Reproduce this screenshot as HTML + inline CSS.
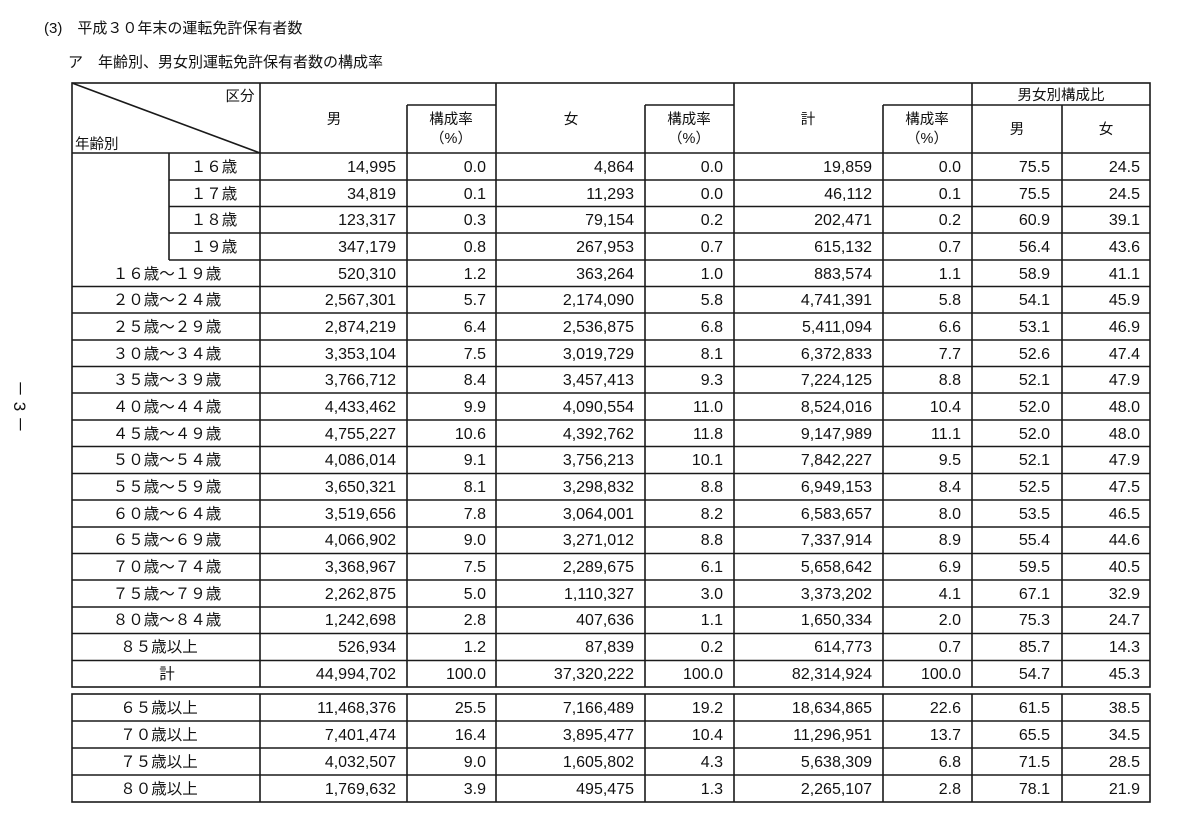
<!DOCTYPE html>
<html><head><meta charset="utf-8">
<style>
html,body{margin:0;padding:0;background:#fff;}
svg{display:block;}
.j{font-family:"Liberation Sans","Noto Sans CJK JP",sans-serif;font-size:15px;fill:#111;}
.l{font-family:"Liberation Sans","Noto Sans CJK JP",sans-serif;font-size:15.5px;fill:#111;text-anchor:middle;}
.n{font-family:"Liberation Sans",sans-serif;font-size:16px;fill:#111;text-anchor:end;}
.h{font-family:"Liberation Sans","Noto Sans CJK JP",sans-serif;font-size:14.5px;fill:#111;text-anchor:middle;}
</style></head>
<body>
<svg width="1200" height="825" viewBox="0 0 1200 825" xmlns="http://www.w3.org/2000/svg">
<text class="j" x="44" y="33">(3)　平成３０年末の運転免許保有者数</text>
<text class="j" x="68" y="67">ア　年齢別、男女別運転免許保有者数の構成率</text>
<text class="j" x="14" y="380" transform="rotate(90 14 380)" style="font-size:17px">－ 3 －</text>

<g stroke="#1a1a1a" stroke-width="1.6" fill="none">
<rect x="72" y="83" width="1078" height="604"/>
<rect x="72" y="694" width="1078" height="108"/>
<line x1="72" y1="83" x2="260" y2="153"/>
<line x1="72" y1="153" x2="1150" y2="153"/>
<line x1="407" y1="105" x2="496" y2="105"/>
<line x1="645" y1="105" x2="734" y2="105"/>
<line x1="883" y1="105" x2="1150" y2="105"/>
<line x1="260" y1="83" x2="260" y2="687"/>
<line x1="407" y1="105" x2="407" y2="687"/>
<line x1="496" y1="83" x2="496" y2="687"/>
<line x1="645" y1="105" x2="645" y2="687"/>
<line x1="734" y1="83" x2="734" y2="687"/>
<line x1="883" y1="105" x2="883" y2="687"/>
<line x1="972" y1="83" x2="972" y2="687"/>
<line x1="1062" y1="105" x2="1062" y2="687"/>
<line x1="169" y1="153" x2="169" y2="260"/>
<line x1="169" y1="180" x2="1150" y2="180"/>
<line x1="169" y1="206.5" x2="1150" y2="206.5"/>
<line x1="169" y1="233" x2="1150" y2="233"/>
<line x1="169" y1="260" x2="1150" y2="260"/>
<line x1="72" y1="286.5" x2="1150" y2="286.5"/>
<line x1="72" y1="313" x2="1150" y2="313"/>
<line x1="72" y1="340" x2="1150" y2="340"/>
<line x1="72" y1="366.5" x2="1150" y2="366.5"/>
<line x1="72" y1="393" x2="1150" y2="393"/>
<line x1="72" y1="420" x2="1150" y2="420"/>
<line x1="72" y1="446.5" x2="1150" y2="446.5"/>
<line x1="72" y1="473.5" x2="1150" y2="473.5"/>
<line x1="72" y1="500" x2="1150" y2="500"/>
<line x1="72" y1="527" x2="1150" y2="527"/>
<line x1="72" y1="553.5" x2="1150" y2="553.5"/>
<line x1="72" y1="580" x2="1150" y2="580"/>
<line x1="72" y1="607" x2="1150" y2="607"/>
<line x1="72" y1="633.5" x2="1150" y2="633.5"/>
<line x1="72" y1="660.5" x2="1150" y2="660.5"/>
<line x1="72" y1="721" x2="1150" y2="721"/>
<line x1="72" y1="748" x2="1150" y2="748"/>
<line x1="72" y1="775" x2="1150" y2="775"/>
<line x1="260" y1="694" x2="260" y2="802"/>
<line x1="407" y1="694" x2="407" y2="802"/>
<line x1="496" y1="694" x2="496" y2="802"/>
<line x1="645" y1="694" x2="645" y2="802"/>
<line x1="734" y1="694" x2="734" y2="802"/>
<line x1="883" y1="694" x2="883" y2="802"/>
<line x1="972" y1="694" x2="972" y2="802"/>
<line x1="1062" y1="694" x2="1062" y2="802"/>
</g>

<text class="h" x="240" y="101">区分</text>
<text class="j" x="75" y="149" style="font-size:14.5px">年齢別</text>
<text class="h" x="334" y="124">男</text>
<text class="h" x="451" y="124">構成率</text>
<text class="h" x="451" y="143">（%）</text>
<text class="h" x="571" y="124">女</text>
<text class="h" x="689" y="124">構成率</text>
<text class="h" x="689" y="143">（%）</text>
<text class="h" x="808" y="124">計</text>
<text class="h" x="927" y="124">構成率</text>
<text class="h" x="927" y="143">（%）</text>
<text class="h" x="1061" y="100">男女別構成比</text>
<text class="h" x="1017" y="134">男</text>
<text class="h" x="1106" y="134">女</text>

<g class="l">
<text x="214" y="172">１６歳</text>
<text x="214" y="199">１７歳</text>
<text x="214" y="225">１８歳</text>
<text x="214" y="252">１９歳</text>
<text x="167" y="279">１６歳～１９歳</text>
<text x="167" y="305">２０歳～２４歳</text>
<text x="167" y="332">２５歳～２９歳</text>
<text x="167" y="359">３０歳～３４歳</text>
<text x="167" y="385">３５歳～３９歳</text>
<text x="167" y="412">４０歳～４４歳</text>
<text x="167" y="439">４５歳～４９歳</text>
<text x="167" y="465">５０歳～５４歳</text>
<text x="167" y="492">５５歳～５９歳</text>
<text x="167" y="519">６０歳～６４歳</text>
<text x="167" y="545">６５歳～６９歳</text>
<text x="167" y="572">７０歳～７４歳</text>
<text x="167" y="599">７５歳～７９歳</text>
<text x="167" y="625">８０歳～８４歳</text>
<text x="159" y="652">８５歳以上</text>
<text x="167" y="679">計</text>
<text x="159" y="713">６５歳以上</text>
<text x="159" y="740">７０歳以上</text>
<text x="159" y="767">７５歳以上</text>
<text x="159" y="794">８０歳以上</text>
</g>

<g class="n">
<text x="396" y="172">14,995</text><text x="486" y="172">0.0</text><text x="634" y="172">4,864</text><text x="723" y="172">0.0</text><text x="872" y="172">19,859</text><text x="961" y="172">0.0</text><text x="1050" y="172">75.5</text><text x="1140" y="172">24.5</text>
<text x="396" y="199">34,819</text><text x="486" y="199">0.1</text><text x="634" y="199">11,293</text><text x="723" y="199">0.0</text><text x="872" y="199">46,112</text><text x="961" y="199">0.1</text><text x="1050" y="199">75.5</text><text x="1140" y="199">24.5</text>
<text x="396" y="225">123,317</text><text x="486" y="225">0.3</text><text x="634" y="225">79,154</text><text x="723" y="225">0.2</text><text x="872" y="225">202,471</text><text x="961" y="225">0.2</text><text x="1050" y="225">60.9</text><text x="1140" y="225">39.1</text>
<text x="396" y="252">347,179</text><text x="486" y="252">0.8</text><text x="634" y="252">267,953</text><text x="723" y="252">0.7</text><text x="872" y="252">615,132</text><text x="961" y="252">0.7</text><text x="1050" y="252">56.4</text><text x="1140" y="252">43.6</text>
<text x="396" y="279">520,310</text><text x="486" y="279">1.2</text><text x="634" y="279">363,264</text><text x="723" y="279">1.0</text><text x="872" y="279">883,574</text><text x="961" y="279">1.1</text><text x="1050" y="279">58.9</text><text x="1140" y="279">41.1</text>
<text x="396" y="305">2,567,301</text><text x="486" y="305">5.7</text><text x="634" y="305">2,174,090</text><text x="723" y="305">5.8</text><text x="872" y="305">4,741,391</text><text x="961" y="305">5.8</text><text x="1050" y="305">54.1</text><text x="1140" y="305">45.9</text>
<text x="396" y="332">2,874,219</text><text x="486" y="332">6.4</text><text x="634" y="332">2,536,875</text><text x="723" y="332">6.8</text><text x="872" y="332">5,411,094</text><text x="961" y="332">6.6</text><text x="1050" y="332">53.1</text><text x="1140" y="332">46.9</text>
<text x="396" y="359">3,353,104</text><text x="486" y="359">7.5</text><text x="634" y="359">3,019,729</text><text x="723" y="359">8.1</text><text x="872" y="359">6,372,833</text><text x="961" y="359">7.7</text><text x="1050" y="359">52.6</text><text x="1140" y="359">47.4</text>
<text x="396" y="385">3,766,712</text><text x="486" y="385">8.4</text><text x="634" y="385">3,457,413</text><text x="723" y="385">9.3</text><text x="872" y="385">7,224,125</text><text x="961" y="385">8.8</text><text x="1050" y="385">52.1</text><text x="1140" y="385">47.9</text>
<text x="396" y="412">4,433,462</text><text x="486" y="412">9.9</text><text x="634" y="412">4,090,554</text><text x="723" y="412">11.0</text><text x="872" y="412">8,524,016</text><text x="961" y="412">10.4</text><text x="1050" y="412">52.0</text><text x="1140" y="412">48.0</text>
<text x="396" y="439">4,755,227</text><text x="486" y="439">10.6</text><text x="634" y="439">4,392,762</text><text x="723" y="439">11.8</text><text x="872" y="439">9,147,989</text><text x="961" y="439">11.1</text><text x="1050" y="439">52.0</text><text x="1140" y="439">48.0</text>
<text x="396" y="465">4,086,014</text><text x="486" y="465">9.1</text><text x="634" y="465">3,756,213</text><text x="723" y="465">10.1</text><text x="872" y="465">7,842,227</text><text x="961" y="465">9.5</text><text x="1050" y="465">52.1</text><text x="1140" y="465">47.9</text>
<text x="396" y="492">3,650,321</text><text x="486" y="492">8.1</text><text x="634" y="492">3,298,832</text><text x="723" y="492">8.8</text><text x="872" y="492">6,949,153</text><text x="961" y="492">8.4</text><text x="1050" y="492">52.5</text><text x="1140" y="492">47.5</text>
<text x="396" y="519">3,519,656</text><text x="486" y="519">7.8</text><text x="634" y="519">3,064,001</text><text x="723" y="519">8.2</text><text x="872" y="519">6,583,657</text><text x="961" y="519">8.0</text><text x="1050" y="519">53.5</text><text x="1140" y="519">46.5</text>
<text x="396" y="545">4,066,902</text><text x="486" y="545">9.0</text><text x="634" y="545">3,271,012</text><text x="723" y="545">8.8</text><text x="872" y="545">7,337,914</text><text x="961" y="545">8.9</text><text x="1050" y="545">55.4</text><text x="1140" y="545">44.6</text>
<text x="396" y="572">3,368,967</text><text x="486" y="572">7.5</text><text x="634" y="572">2,289,675</text><text x="723" y="572">6.1</text><text x="872" y="572">5,658,642</text><text x="961" y="572">6.9</text><text x="1050" y="572">59.5</text><text x="1140" y="572">40.5</text>
<text x="396" y="599">2,262,875</text><text x="486" y="599">5.0</text><text x="634" y="599">1,110,327</text><text x="723" y="599">3.0</text><text x="872" y="599">3,373,202</text><text x="961" y="599">4.1</text><text x="1050" y="599">67.1</text><text x="1140" y="599">32.9</text>
<text x="396" y="625">1,242,698</text><text x="486" y="625">2.8</text><text x="634" y="625">407,636</text><text x="723" y="625">1.1</text><text x="872" y="625">1,650,334</text><text x="961" y="625">2.0</text><text x="1050" y="625">75.3</text><text x="1140" y="625">24.7</text>
<text x="396" y="652">526,934</text><text x="486" y="652">1.2</text><text x="634" y="652">87,839</text><text x="723" y="652">0.2</text><text x="872" y="652">614,773</text><text x="961" y="652">0.7</text><text x="1050" y="652">85.7</text><text x="1140" y="652">14.3</text>
<text x="396" y="679">44,994,702</text><text x="486" y="679">100.0</text><text x="634" y="679">37,320,222</text><text x="723" y="679">100.0</text><text x="872" y="679">82,314,924</text><text x="961" y="679">100.0</text><text x="1050" y="679">54.7</text><text x="1140" y="679">45.3</text>
<text x="396" y="713">11,468,376</text><text x="486" y="713">25.5</text><text x="634" y="713">7,166,489</text><text x="723" y="713">19.2</text><text x="872" y="713">18,634,865</text><text x="961" y="713">22.6</text><text x="1050" y="713">61.5</text><text x="1140" y="713">38.5</text>
<text x="396" y="740">7,401,474</text><text x="486" y="740">16.4</text><text x="634" y="740">3,895,477</text><text x="723" y="740">10.4</text><text x="872" y="740">11,296,951</text><text x="961" y="740">13.7</text><text x="1050" y="740">65.5</text><text x="1140" y="740">34.5</text>
<text x="396" y="767">4,032,507</text><text x="486" y="767">9.0</text><text x="634" y="767">1,605,802</text><text x="723" y="767">4.3</text><text x="872" y="767">5,638,309</text><text x="961" y="767">6.8</text><text x="1050" y="767">71.5</text><text x="1140" y="767">28.5</text>
<text x="396" y="794">1,769,632</text><text x="486" y="794">3.9</text><text x="634" y="794">495,475</text><text x="723" y="794">1.3</text><text x="872" y="794">2,265,107</text><text x="961" y="794">2.8</text><text x="1050" y="794">78.1</text><text x="1140" y="794">21.9</text>
</g>
</svg>
</body></html>
